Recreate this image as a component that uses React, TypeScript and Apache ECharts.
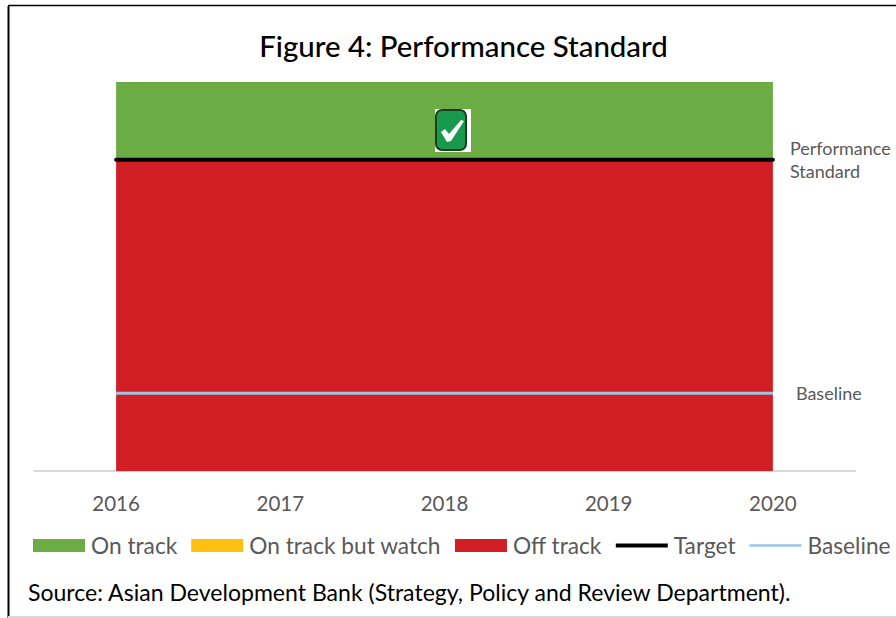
import React, { useEffect, useRef } from "react";
import * as echarts from "echarts";

const categories = ["2016", "2017", "2018", "2019", "2020"];
const offTrack = [80, 80, 80, 80, 80];
const watch = [0, 0, 0, 0, 0];
const onTrack = [20, 20, 20, 20, 20];
const target = [80, 80, 80, 80, 80];
const baseline = [20, 20, 20, 20, 20];
const titleText = "Figure 4: Performance Standard";
const sourceText = "Source: Asian Development Bank (Strategy, Policy and Review Department).";
const targetLabel = "Performance\nStandard";
const baselineLabel = "Baseline";

const FONT = "Lato, 'Open Sans', sans-serif";

function area(name: string, data: number[], color: string) {
  return {
    name, type: "line", stack: "status", data, symbol: "none",
    lineStyle: { width: 0, color }, itemStyle: { color },
    areaStyle: { color, opacity: 1 }, z: 2,
  };
}

export default function App() {
  const ref = useRef<HTMLDivElement>(null);
  useEffect(() => {
    const chart = echarts.init(ref.current!, undefined, { renderer: "svg" });
    chart.setOption({
      animation: false,
      backgroundColor: "#ffffff",
      textStyle: { fontFamily: FONT },
      title: {
        text: titleText, left: 458.5, top: 26, textAlign: "center",
        textStyle: { fontFamily: FONT, fontSize: 29.4, fontWeight: 500, color: "#000000" },
      },
      grid: { left: 34, right: 41, top: 82, bottom: 147 },
      legend: {
        left: 33, top: 534, padding: 0, itemWidth: 52, itemHeight: 13, itemGap: 14,
        textStyle: { fontFamily: FONT, fontSize: 22.7, color: "#595959", padding: [0, 0, 0, 1] },
        data: [
          { name: "On track", icon: "rect" },
          { name: "On track but watch", icon: "rect" },
          { name: "Off track", icon: "rect" },
          { name: "Target", icon: "path://M0 0H52V4H0Z" },
          { name: "Baseline", icon: "path://M0 0H52V2.5H0Z" },
        ],
      },
      xAxis: {
        type: "category", data: categories, boundaryGap: true,
        axisLine: { lineStyle: { color: "#d9d9d9", width: 2 } },
        axisTick: { show: false },
        axisLabel: { color: "#595959", fontSize: 20.5, margin: 21, fontFamily: FONT },
      },
      yAxis: {
        type: "value", min: 0, max: 100, interval: 20,
        axisLine: { show: false }, axisTick: { show: false },
        axisLabel: { show: false }, splitLine: { show: false },
      },
      series: [
        area("Off track", offTrack, "#d21f26"),
        area("On track but watch", watch, "#ffc010"),
        area("On track", onTrack, "#6cac45"),
        {
          name: "Target", type: "line", data: target, symbol: "none", z: 4,
          lineStyle: { color: "#000000", width: 4, cap: "round" }, itemStyle: { color: "#000000" },
          endLabel: {
            show: true, formatter: () => targetLabel, distance: 17, align: "left",
            color: "#595959", fontSize: 18, lineHeight: 23, fontFamily: FONT,
          },
        },
        {
          name: "Baseline", type: "line", data: baseline, symbol: "none", z: 4,
          lineStyle: { color: "#9dc3e6", width: 3 }, itemStyle: { color: "#9dc3e6" },
          endLabel: {
            show: true, formatter: () => baselineLabel, distance: 23, align: "left",
            color: "#595959", fontSize: 18, fontFamily: FONT,
          },
        },
      ],
      graphic: {
        elements: [
          { type: "line", shape: { x1: 8.5, y1: 6, x2: 8.5, y2: 618 }, style: { stroke: "#000000", lineWidth: 2 } },
          { type: "line", shape: { x1: 8, y1: 5.5, x2: 896, y2: 5.5 }, style: { stroke: "#000000", lineWidth: 1.5 } },
          { type: "line", shape: { x1: 8, y1: 617, x2: 896, y2: 617 }, style: { stroke: "#d9d9d9", lineWidth: 2 } },
          {
            type: "text", left: 28, top: 580,
            style: { text: sourceText, fontFamily: FONT, fontSize: 23.05, fill: "#000000" },
          },
          { type: "rect", z: 100, shape: { x: 435, y: 109, width: 36, height: 43 }, style: { fill: "#ffffff" } },
          { type: "rect", z: 101, shape: { x: 436, y: 110, width: 30, height: 40, r: 6 }, style: { fill: "#179a4b", stroke: "#1d3b26", lineWidth: 2 } },
          { type: "polygon", z: 102, shape: { points: [[441, 132], [445, 129], [449, 134], [461, 120], [464, 121], [451, 141], [447, 142]] }, style: { fill: "#ffffff" } },
        ],
      },
    });
    return () => chart.dispose();
  }, []);
  return <div ref={ref} style={{ position: "absolute", left: 0, top: 0, width: 896, height: 618 }} />;
}
